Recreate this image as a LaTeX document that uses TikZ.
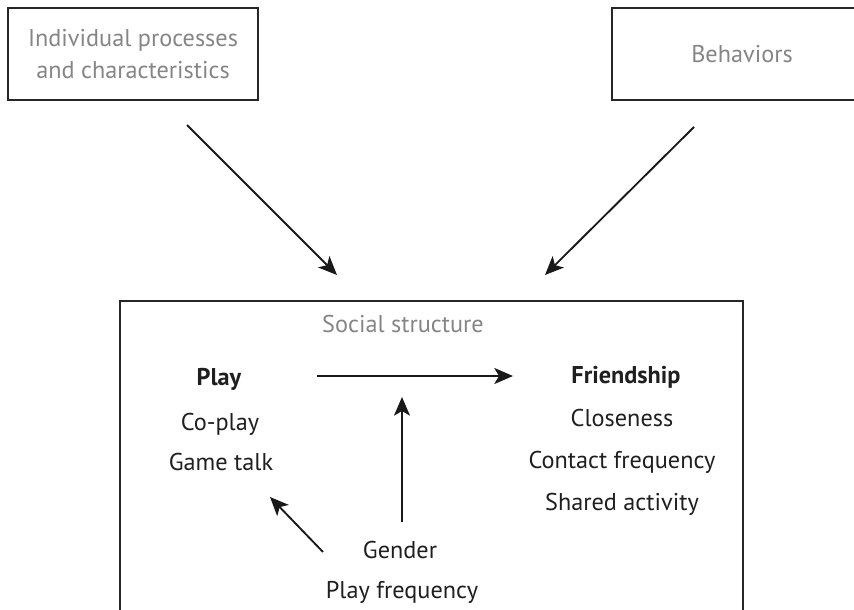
\documentclass[tikz,border=0pt]{standalone}
\usepackage{fontspec}
\setmainfont{PT Sans}
\usetikzlibrary{arrows.meta}
\begin{document}
\begin{tikzpicture}[x=0.75pt,y=-0.75pt,
  frame/.style={draw=black!85, line width=1.4pt, rectangle, inner sep=0pt},
  graytxt/.style={text=black!48, font=\fontsize{18.2}{24}\selectfont, align=center},
  txt/.style={text=black!88, font=\fontsize{18.2}{24}\selectfont, anchor=base, inner sep=0pt},
  head/.style={txt, font=\fontsize{18.2}{24}\selectfont\bfseries},
  link/.style={draw=black!90, line width=1.4pt, -{Stealth[length=14pt,width=12pt,inset=3.5pt]}},
]
\useasboundingbox (0,0) rectangle (854,610);
\clip (0,0) rectangle (854,610);

% outer boxes
\node[frame, graytxt, minimum width=187.5pt, minimum height=69pt] (ind) at (133,54)
  {Individual processes\\and characteristics};
\node[frame, graytxt, minimum width=195pt, minimum height=69pt] (beh) at (742,54) {Behaviors};
\node[frame, minimum width=467.25pt, minimum height=254.25pt] (soc) at (431.5,470.5) {};
\node[graytxt, anchor=base, inner sep=0pt] (soclabel) at (403,332) {Social structure};

% play column
\node[head] (play) at (219,385) {Play};
\node[txt] (coplay) at (220,430) {Co-play};
\node[txt] (gametalk) at (221,470) {Game talk};

% friendship column
\node[head] (friend) at (626,383) {Friendship};
\node[txt] (close) at (622,426) {Closeness};
\node[txt] (contact) at (622,468) {Contact frequency};
\node[txt] (shared) at (622,510) {Shared activity};

% moderators
\node[txt] (gender) at (400,558) {Gender};
\node[txt] (playfreq) at (402,598) {Play frequency};

% arrow end points
\coordinate (ind-out) at (187,125);
\coordinate (soc-inl) at (337,275);
\coordinate (beh-out) at (694,127);
\coordinate (soc-inr) at (545,275);
\coordinate (play-out) at (317,376);
\coordinate (friend-in) at (513,376);
\coordinate (gender-up) at (402,522);
\coordinate (path-mid) at (402,397);
\coordinate (gender-left) at (323,552);
\coordinate (play-in) at (270,497);

\draw[link] (ind-out) -- (soc-inl);
\draw[link] (beh-out) -- (soc-inr);
\draw[link] (play-out) -- (friend-in);
\draw[link] (gender-up) -- (path-mid);
\draw[link] (gender-left) -- (play-in);
\end{tikzpicture}
\end{document}
